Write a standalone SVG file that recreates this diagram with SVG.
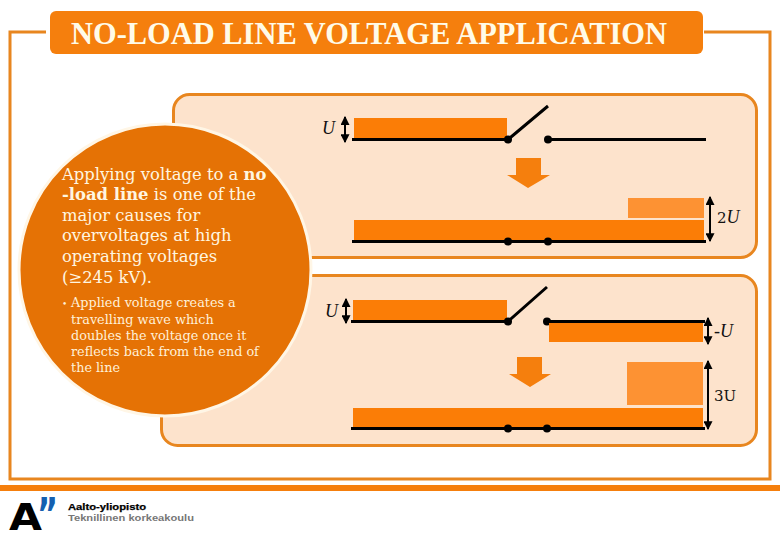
<svg xmlns="http://www.w3.org/2000/svg" width="780" height="540" viewBox="0 0 780 540">
<style>
.panel{fill:#fde3cc;stroke:#e8861f;stroke-width:3}
.frame{fill:none;stroke:#e8861f;stroke-width:3}
.wire{stroke:#000;stroke-width:3;fill:none}
.dim{stroke:#000;stroke-width:2;fill:none;marker-start:url(#ah);marker-end:url(#ah)}
.bar{fill:#fb7d06}
.refl{fill:#fd9233}
.big{fill:#f57f0d}
.math{font-family:"Liberation Serif",serif;font-style:italic;font-size:18px;fill:#111}
.num{font-family:"DejaVu Serif",serif;font-size:15px;fill:#111}
.body{font-family:"DejaVu Serif",serif;font-size:16.4px;fill:#fff6e0}
.sub{font-family:"DejaVu Serif",serif;font-size:12.8px;fill:#fff0d8}
</style>
<defs>
<marker id="ah" viewBox="0 0 8 8" refX="7" refY="4" markerWidth="4.5" markerHeight="4.5" orient="auto-start-reverse"><path d="M0 0L8 4L0 8z" fill="#000"/></marker>
<circle id="dot" r="4" fill="#000"/>
</defs>
<rect width="780" height="540" fill="#fff"/>
<g id="frame">
<path class="frame" d="M46 32H10V479H770V32H704"/>
</g>
<g id="title">
<rect x="50" y="11" width="653" height="43" rx="6" fill="#f57f0d"/>
<text x="71" y="44" font-family="Liberation Serif,serif" font-size="30.5" font-weight="bold" fill="#fffbe8" textLength="596" lengthAdjust="spacingAndGlyphs">NO-LOAD LINE VOLTAGE APPLICATION</text>
</g>
<g id="panel-top"><rect class="panel" x="173.500" y="94.500" width="583" height="163" rx="16"/></g>
<g id="panel-bottom"><rect class="panel" x="161.500" y="275.500" width="595" height="170" rx="16"/></g>
<g id="circle">
<circle cx="165" cy="270" r="146" fill="#e57205" stroke="#fff6e6" stroke-width="3"/>
<text class="body" x="62" y="180">Applying voltage to a <tspan font-weight="bold">no</tspan></text>
<text class="body" x="62" y="200"><tspan font-weight="bold">-load line</tspan> is one of the</text>
<text class="body" x="62" y="221">major causes for</text>
<text class="body" x="62" y="241">overvoltages at high</text>
<text class="body" x="62" y="262">operating voltages</text>
<text class="body" x="62" y="283">(≥245 kV).</text>
<text class="sub" x="62" y="307" style="font-size:9px">•</text>
<text class="sub" x="71" y="307">Applied voltage creates a</text>
<text class="sub" x="71" y="324">travelling wave which</text>
<text class="sub" x="71" y="340">doubles the voltage once it</text>
<text class="sub" x="71" y="356">reflects back from the end of</text>
<text class="sub" x="71" y="372">the line</text>
</g>
<g id="diagram-1-open">
<rect class="bar" x="354" y="118" width="153" height="20"/>
<path class="wire" d="M352 139.500H508M508 139.500L548 106M548 139.500H706"/>
<use href="#dot" x="508" y="139.500"/><use href="#dot" x="548" y="139.500"/>
<path class="dim" d="M345 117V142"/>
<text class="math" x="322" y="134">U</text>
</g>
<g id="arrow-1"><path class="big" d="M516 158H541V175H550L528 188L507 175H516z"/></g>
<g id="diagram-1-closed">
<rect class="refl" x="628" y="198" width="76" height="20"/>
<rect class="bar" x="354" y="220" width="350" height="20"/>
<path class="wire" d="M352 241.500H706"/>
<use href="#dot" x="508" y="241.500"/><use href="#dot" x="548" y="241.500"/>
<path class="dim" d="M710 197V241"/>
<text class="num" x="717" y="223">2<tspan class="math">U</tspan></text>
</g>
<g id="diagram-2-open">
<rect class="bar" x="353" y="300" width="154" height="20"/>
<path class="wire" d="M351 321.500H508M508 321.500L547 287M547 321.500H705"/>
<use href="#dot" x="508" y="321.500"/><use href="#dot" x="547" y="321.500"/>
<rect class="bar" x="549" y="323" width="154" height="19"/>
<path class="dim" d="M346 299V323"/>
<text class="math" x="325" y="317">U</text>
<path class="dim" d="M708 318V344"/>
<text class="math" x="714" y="337">-U</text>
</g>
<g id="arrow-2"><path class="big" d="M517 357H542V374H551L530 387L509 374H517z"/></g>
<g id="diagram-2-closed">
<rect class="refl" x="627" y="362" width="76" height="43"/>
<rect class="bar" x="353" y="408" width="350" height="20"/>
<path class="wire" d="M351 428.500H705"/>
<use href="#dot" x="508" y="428.500"/><use href="#dot" x="547" y="428.500"/>
<path class="dim" d="M708 361V429"/>
<text class="num" x="714" y="401">3U</text>
</g>
<g id="footer">
<rect x="0" y="485" width="780" height="6" fill="#f57f0d"/>
<text x="9" y="530" font-family="DejaVu Sans,sans-serif" font-weight="bold" font-size="38" fill="#000" textLength="33" lengthAdjust="spacingAndGlyphs">A</text>
<text x="37" y="530" font-family="DejaVu Sans,sans-serif" font-weight="bold" font-size="44" fill="#1560b0" textLength="21" lengthAdjust="spacingAndGlyphs">”</text>
<text x="68" y="510" font-family="Liberation Sans,sans-serif" font-weight="bold" font-size="9" fill="#000" stroke="#000" stroke-width=".25" textLength="78" lengthAdjust="spacingAndGlyphs">Aalto-yliopisto</text>
<text x="68" y="521" font-family="Liberation Sans,sans-serif" font-weight="bold" font-size="9" fill="#777" textLength="126" lengthAdjust="spacingAndGlyphs">Teknillinen korkeakoulu</text>
</g>
</svg>
